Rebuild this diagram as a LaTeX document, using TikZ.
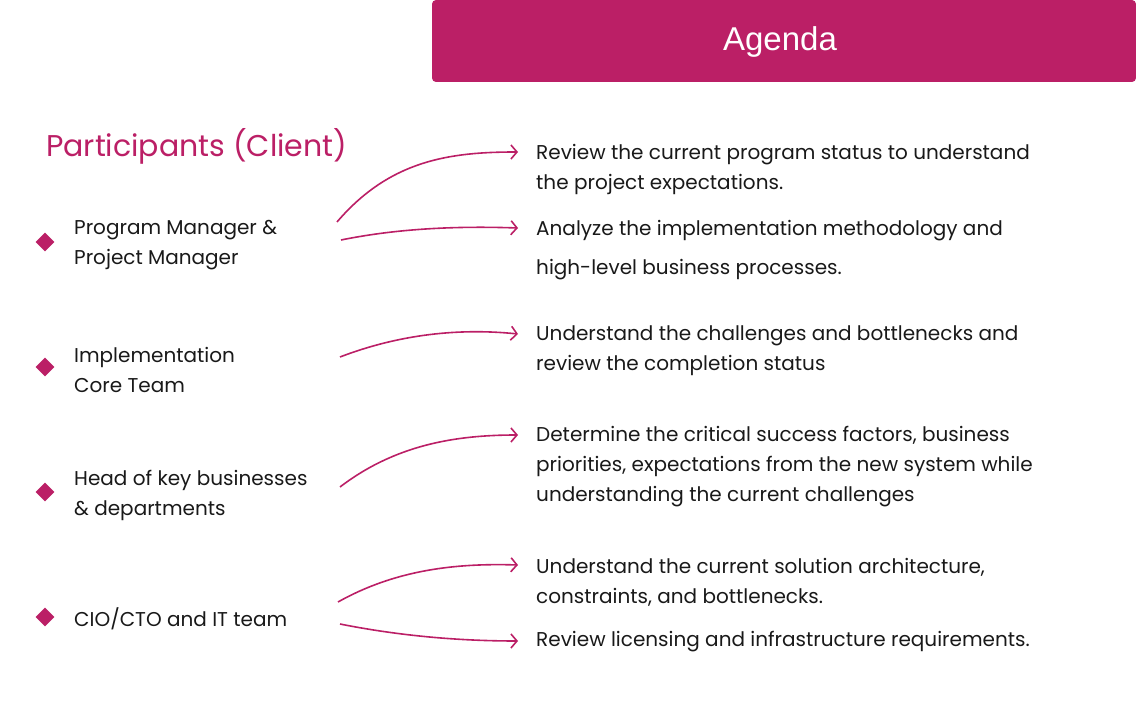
\documentclass[tikz,border=0pt]{standalone}
\usepackage{fontspec}
\setmainfont{Poppins}
\newfontfamily\headfont{Liberation Sans}
\usetikzlibrary{arrows.meta,positioning,shapes.geometric}
\definecolor{agendapink}{RGB}{187,31,102}

\begin{document}
\begin{tikzpicture}[
  x=1pt, y=-1pt,
  font=\fontsize{20}{30}\selectfont,
  item/.style={anchor=west, align=left, inner sep=0pt, text=black!90},
  bullet/.style={diamond, fill=agendapink, minimum size=19pt, inner sep=0pt},
  link/.style={agendapink, line width=1.6pt, -{Straight Barb[length=6pt,width=14pt]}}
]

% Canvas.
\useasboundingbox (0,0) rectangle (1136,708);

% Header bar.
\fill[agendapink, rounded corners=4pt] (432,0) rectangle (1136,82);
\node[text=white, font=\headfont\fontsize{33}{36}\selectfont] (agenda) at (780,42) {Agenda};

% Participants column.
\node[anchor=west, inner sep=0pt, text=agendapink, font=\fontsize{30}{32}\selectfont]
  (participants) at (46,146) {Participants (Client)};

\foreach \y/\n in {242/b1, 367/b2, 492/b3, 617/b4}
  \node[bullet] (\n) at (45,\y) {};

\node[item] (p1) at (74,245) {Program Manager \&\\Project Manager};
\node[item] (p2) at (74,370) {Implementation\\Core Team};
\node[item] (p3) at (74,495) {Head of key businesses\\\& departments};
\node[item] (p4) at (74,619) {CIO/CTO and IT team};

% Agenda items.
\node[item] (a1) at (536,169) {Review the current program status to understand\\the project expectations.};
\node[item] (a2) at (536,250) {Analyze the implementation methodology and\\[9pt]high-level business processes.};
\node[item] (a3) at (536,351) {Understand the challenges and bottlenecks and\\review the completion status};
\node[item] (a4) at (536,467) {Determine the critical success factors, business\\priorities, expectations from the new system while\\understanding the current challenges};
\node[item] (a5) at (536,582) {Understand the current solution architecture,\\constraints, and bottlenecks.};
\node[item] (a6) at (536,642) {Review licensing and infrastructure requirements.};

% Connector ends.
\coordinate (s1) at (337,222);
\coordinate (s2) at (341,240);
\coordinate (s3) at (340,357);
\coordinate (s4) at (340,487);
\coordinate (s5) at (338,602);
\coordinate (s6) at (340,624);
\coordinate (e1) at (518,152);
\coordinate (e2) at (518,228);
\coordinate (e3) at (518,334);
\coordinate (e4) at (518,435);
\coordinate (e5) at (518,565);
\coordinate (e6) at (518,641);

% Connectors.
\draw[link] (s1) .. controls (390,160) and (450,152) .. (e1);
\draw[link] (s2) .. controls (400,228) and (460,226) .. (e2);
\draw[link] (s3) .. controls (400,334) and (460,328) .. (e3);
\draw[link] (s4) .. controls (395,445) and (455,435) .. (e4);
\draw[link] (s5) .. controls (395,570) and (455,563) .. (e5);
\draw[link] (s6) .. controls (400,636) and (460,641) .. (e6);

\end{tikzpicture}
\end{document}
